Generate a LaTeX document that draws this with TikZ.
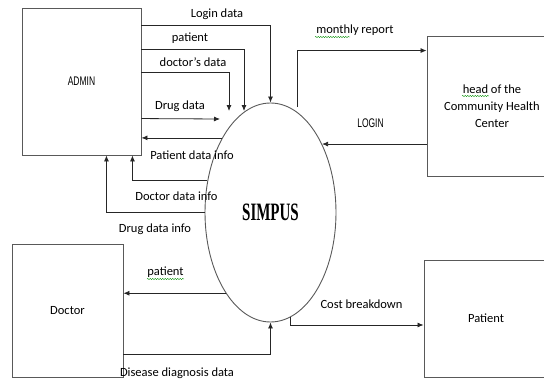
\documentclass[tikz,border=0pt]{standalone}
\usepackage{fontspec}
\setmainfont{Carlito}
\newfontfamily\narrowfont{Liberation Sans}
\newfontfamily\titlefont{Liberation Serif}
\usetikzlibrary{shapes.geometric,decorations.pathmorphing,arrows.meta}

\newcommand{\narrowtxt}[1]{\scalebox{0.68}[1]{\narrowfont #1}}

\begin{document}
\begin{tikzpicture}[x=1pt,y=-1pt,>={Latex[length=6pt,width=5pt]},
  font=\fontsize{12.5}{17}\selectfont,
  box/.style={draw=black!65,line width=0.9pt,inner sep=0pt},
  flow/.style={->,draw=black!85,line width=0.8pt},
  squiggle/.style={draw=green!55!black,line width=0.4pt,decorate,
    decoration={snake,amplitude=0.6pt,segment length=2.5pt}}]
\useasboundingbox (0,0) rectangle (544,380);
\clip (0,0) rectangle (544,380);

% external entities
\node[box,minimum width=119,minimum height=147] (admin) at (81.5,81.5) {\narrowtxt{ADMIN}};
\node[box,minimum width=130,minimum height=140,align=center] (head) at (492,106) {head of the\\Community Health\\Center};
\node[box,minimum width=111,minimum height=133] (doctor) at (67.5,310.5) {Doctor};
\node[box,minimum width=124,minimum height=117] (patient) at (486,318.5) {Patient};

% process
\node[draw=black!65,line width=0.9pt,ellipse,inner sep=0pt,
  minimum width=131,minimum height=219] (simpus) at (270.5,212.5)
  {\scalebox{0.6}[1]{\titlefont\fontsize{25}{25}\selectfont\bfseries SIMPUS}};

% free ends
\coordinate (patin) at (244,111);
\coordinate (docin) at (229,111);
\coordinate (drugin) at (220,119);
\coordinate (reportout) at (297,107);

% admin -> simpus
\draw[flow] ([yshift=-18]admin.north east) -| (simpus.north);
\draw[flow] ([yshift=-42]admin.north east) -| (patin);
\draw[flow] ([yshift=-65]admin.north east) -| (docin);
\draw[flow] ([yshift=-111]admin.north east) -- (drugin);

% simpus -> admin
\draw[flow] (simpus.123) -- (admin.east |- simpus.123);
\draw[flow] (simpus.153) -| ([xshift=-9]admin.south east);
\draw[flow] (simpus.west) -| ([xshift=-35]admin.south east);

% head of the community health center
\draw[flow] (reportout) |- ([yshift=-15]head.north west);
\draw[flow] (head.west |- simpus.53) -- (simpus.53);

% doctor and patient
\draw[flow] (simpus.241) -- (doctor.east |- simpus.241);
\draw[flow] ([yshift=23]doctor.south east) -| (simpus.south);
\draw[flow] (simpus.281) |- ([yshift=-6.5]patient.west);

% flow labels
\node (logindata) at (217,14) {Login data};
\node (patientdata) at (190,38) {patient};
\node (doctorsdata) at (193,62) {doctor's data};
\node (drugdata) at (180,106) {Drug data};
\node (patientinfo) at (192,155) {Patient data info};
\node (doctorinfo) at (176.5,196) {Doctor data info};
\node (druginfo) at (155,229) {Drug data info};
\node (report) at (355,30) {monthly report};
\node (login) at (370.5,123) {\narrowtxt{LOGIN}};
\node (patientout) at (165.5,272) {patient};
\node (diagnosis) at (177,373) {Disease diagnosis data};
\node (cost) at (361.5,304) {Cost breakdown};

% spell check marks
\draw[squiggle] (315,37) -- (350,37);
\draw[squiggle] (462,96) -- (489,96);
\draw[squiggle] (147,279) -- (184,279);
\end{tikzpicture}
\end{document}
